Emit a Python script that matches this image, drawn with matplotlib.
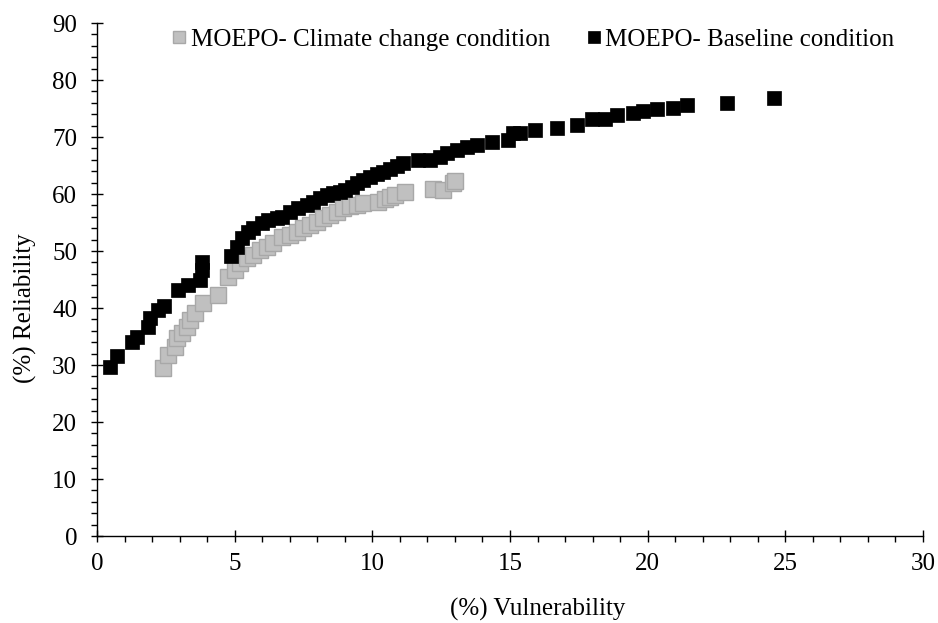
import numpy as np
import matplotlib as mpl; mpl.use('Agg')
import matplotlib.pyplot as plt
from matplotlib.ticker import MultipleLocator

mpl.rcParams.update({'font.family': 'serif', 'font.serif': ['Liberation Serif', 'DejaVu Serif'],
                     'font.size': 18, 'axes.linewidth': 1.0})

# MOEPO - climate change condition (vulnerability %, reliability %)
cc_vul = [2.40, 2.58, 2.83, 2.91, 3.09, 3.27, 3.38, 3.56, 3.85, 4.40, 4.76, 5.01, 5.19, 5.45,
          5.67, 5.92, 6.17, 6.39, 6.72, 7.01, 7.26, 7.48, 7.74, 7.99, 8.21, 8.46, 8.72, 8.94,
          9.19, 9.44, 9.66, 10.21, 10.46, 10.64, 10.82, 11.19, 12.20, 12.55, 12.93, 13.00]
cc_rel = [29.5, 31.8, 33.2, 34.7, 35.6, 36.7, 37.9, 39.1, 40.9, 42.3, 45.4, 46.7, 47.9, 48.8,
          49.3, 50.2, 50.7, 51.4, 52.5, 52.8, 53.3, 54.0, 54.6, 55.1, 55.8, 56.3, 56.8, 57.5,
          57.9, 58.1, 58.4, 58.6, 59.1, 59.5, 59.8, 60.4, 60.8, 60.7, 61.9, 62.3]

# MOEPO - baseline condition
bl_vul = [0.47, 0.73, 1.27, 1.45, 1.85, 1.93, 2.22, 2.43, 2.94, 3.31, 3.74, 3.81, 3.81, 4.87,
          5.09, 5.27, 5.49, 5.67, 5.99, 6.21, 6.54, 6.72, 7.01, 7.30, 7.63, 7.85, 8.10, 8.35,
          8.57, 8.83, 9.01, 9.26, 9.44, 9.66, 9.92, 10.17, 10.39, 10.64, 10.90, 11.12, 11.66,
          12.10, 12.46, 12.71, 13.08, 13.44, 13.80, 14.35, 14.93, 15.11, 15.36, 15.91, 16.71,
          17.44, 17.98, 18.45, 18.89, 19.47, 19.83, 20.34, 20.92, 21.43, 22.88, 24.59]
bl_rel = [29.6, 31.6, 34.0, 34.9, 36.7, 38.2, 39.6, 40.4, 43.2, 44.0, 44.9, 46.7, 48.1, 49.1,
          50.7, 52.3, 53.3, 54.0, 54.9, 55.4, 55.8, 56.0, 56.8, 57.5, 58.1, 58.6, 59.3, 59.8,
          60.2, 60.4, 60.7, 61.2, 61.9, 62.5, 63.0, 63.5, 63.9, 64.4, 64.9, 65.4, 66.0,
          66.0, 66.5, 67.2, 67.7, 68.2, 68.6, 69.1, 69.5, 70.7, 70.7, 71.2, 71.6,
          72.1, 73.2, 73.2, 73.9, 74.2, 74.6, 74.9, 75.1, 75.6, 76.0, 76.8]

fig = plt.figure(figsize=(9.38, 6.23), dpi=100)
ax = fig.add_axes([0.1034, 0.1396, 0.8806, 0.8234])

ax.plot(cc_vul, cc_rel, 's', ms=12.2, mfc='#c0c0c0', mec='#a8a8a8', mew=1.0,
        label='MOEPO- Climate change condition')
ax.plot(bl_vul, bl_rel, 's', ms=9.4, mfc='black', mec='black', mew=0.5,
        label='MOEPO- Baseline condition')

ax.set_xlim(0, 30); ax.set_ylim(0, 90)
ax.xaxis.set_major_locator(MultipleLocator(5)); ax.xaxis.set_minor_locator(MultipleLocator(1))
ax.yaxis.set_major_locator(MultipleLocator(10)); ax.yaxis.set_minor_locator(MultipleLocator(2))
ax.tick_params(which='major', direction='inout', length=8.6, width=1.0, pad=8)
ax.tick_params(which='minor', direction='out', length=4.3, width=1.0)
ax.tick_params(axis='y', which='major', pad=10)
for s in ('top', 'right'):
    ax.spines[s].set_visible(False)

ax.set_xlabel('(%) Vulnerability')
ax.set_ylabel('(%) Reliability')
ax.xaxis.set_label_coords(0.533, -0.12)
ax.yaxis.set_label_coords(-0.073, 0.444)

leg = ax.legend(loc='center', bbox_to_anchor=(0.527, 0.967), ncol=2, frameon=False,
                handlelength=0.7, handletextpad=0.1, columnspacing=1.4,
                fontsize=18, borderpad=0)
for h in leg.legend_handles:
    h.set_markersize(9.3)

fig.savefig('out.png', dpi=100)
